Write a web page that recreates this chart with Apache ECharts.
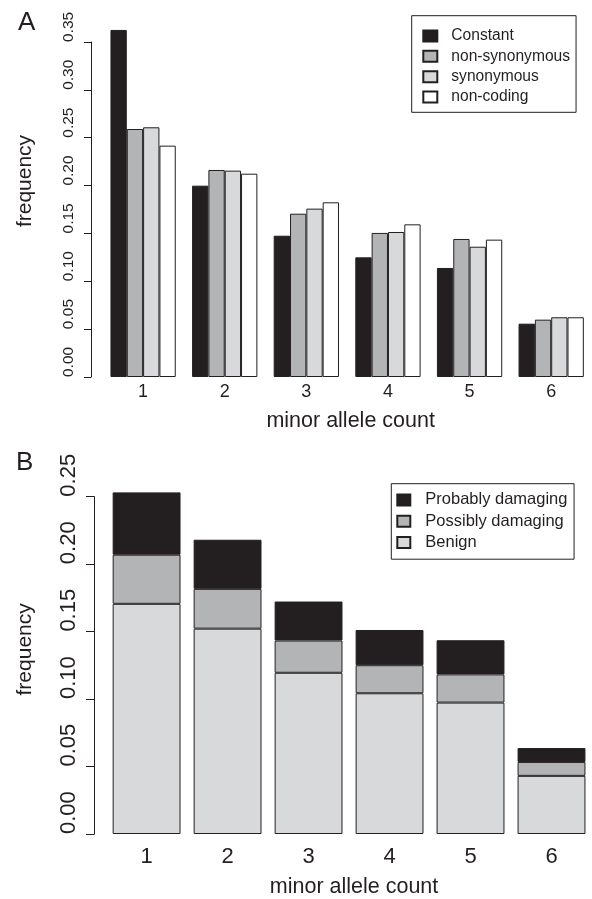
<!DOCTYPE html>
<html><head><meta charset="utf-8">
<script src="https://cdn.jsdelivr.net/npm/echarts@6/dist/echarts.min.js"></script>
<style>html,body{margin:0;padding:0;background:#fff}#c{width:592px;height:899px}</style>
</head><body><div id="c"></div>
<script>
// ---- Data (panel A) ----
const categories = ['1', '2', '3', '4', '5', '6'];
const constant      = [0.3626, 0.1999, 0.1476, 0.1250, 0.1139, 0.0557];
const nonSynonymous = [0.2591, 0.2163, 0.1706, 0.1505, 0.1442, 0.0599];
const synonymous    = [0.2609, 0.2156, 0.1759, 0.1515, 0.1361, 0.0624];
const nonCoding     = [0.2417, 0.2124, 0.1825, 0.1595, 0.1435, 0.0624];
const yTickLabelsA  = ['0.00', '0.05', '0.10', '0.15', '0.20', '0.25', '0.30', '0.35'];
// ---- Data (panel B, stacked segments) ----
const benign            = [0.1706, 0.1522, 0.1195, 0.1043, 0.0974, 0.0431];
const possiblyDamaging  = [0.0364, 0.0295, 0.0239, 0.0208, 0.0209, 0.0103];
const probablyDamaging  = [0.0462, 0.0364, 0.0289, 0.0261, 0.0253, 0.0103];
const yTickLabelsB  = ['0.00', '0.05', '0.10', '0.15', '0.20', '0.25'];

const INK = '#231f20';
const FONT = 'Liberation Sans';
const C_DARK = '#231f20', C_MID = '#b3b4b6', C_LIGHT = '#d8d9db', C_WHITE = '#ffffff';

function barStyle(c) { return { color: c, borderColor: INK, borderWidth: 1 }; }

const chart = echarts.init(document.getElementById('c'), null, { renderer: 'canvas' });

const option = {
  animation: false,
  backgroundColor: '#ffffff',
  textStyle: { fontFamily: FONT, color: INK },
  title: [
    { text: 'A', left: 18, top: 10, padding: 0, textStyle: { fontSize: 26, fontWeight: 'normal', color: INK, fontFamily: FONT } },
    { text: 'B', left: 16, top: 450, padding: 0, textStyle: { fontSize: 26, fontWeight: 'normal', color: INK, fontFamily: FONT } }
  ],
  legend: [
    {
      data: ['Constant', 'non-synonymous', 'synonymous', 'non-coding'],
      orient: 'vertical', left: 411.7, top: 15.7,
      icon: 'rect', itemWidth: 14, itemHeight: 11, itemGap: 0,
      borderColor: INK, borderWidth: 1, padding: [10, 6, 5, 10.6],
      selectedMode: false,
      textStyle: { fontSize: 15.6, lineHeight: 20.4, color: INK, fontFamily: FONT, padding: [0, 0, 0, 9] }
    },
    {
      data: ['Probably damaging', 'Possibly damaging', 'Benign'],
      orient: 'vertical', left: 391.3, top: 483.7,
      icon: 'rect', itemWidth: 13, itemHeight: 11, itemGap: 0,
      borderColor: INK, borderWidth: 1, padding: [5.6, 6.6, 6, 5],
      selectedMode: false,
      textStyle: { fontSize: 16.5, lineHeight: 21.3, color: INK, fontFamily: FONT, padding: [0, 0, 0, 10] }
    }
  ],
  grid: [
    { left: 102.3, top: 42, width: 494.4, height: 335 },
    { left: 106.1, top: 496.7, width: 486.6, height: 339 }
  ],
  xAxis: [
    {
      gridIndex: 0, type: 'category', data: categories,
      axisLine: { show: false }, axisTick: { show: false },
      axisLabel: { fontSize: 18, margin: 6, color: INK, fontFamily: FONT },
      name: 'minor allele count', nameLocation: 'middle', nameGap: 33,
      nameTextStyle: { fontSize: 21.5, color: INK, fontFamily: FONT, padding: [0, 0, 0, 7] }
    },
    {
      gridIndex: 1, type: 'category', data: categories,
      axisLine: { show: false }, axisTick: { show: false },
      axisLabel: { fontSize: 22, margin: 12, color: INK, fontFamily: FONT },
      name: 'minor allele count', nameLocation: 'middle', nameGap: 42,
      nameTextStyle: { fontSize: 21.5, color: INK, fontFamily: FONT, padding: [0, 0, 0, 10] }
    }
  ],
  yAxis: [
    {
      gridIndex: 0, type: 'value', min: 0, max: 0.35, interval: 0.05, offset: 11.3,
      axisLine: { show: true, lineStyle: { color: INK, width: 1 } },
      axisTick: { show: true, length: 7, lineStyle: { color: INK, width: 1 } },
      splitLine: { show: false },
      axisLabel: {
        rotate: 90, align: 'left', verticalAlign: 'middle', margin: 22.5,
        fontSize: 15.5, color: INK, fontFamily: FONT,
        formatter: v => yTickLabelsA[Math.round(v / 0.05)]
      },
      name: 'frequency', nameLocation: 'middle', nameRotate: 90, nameGap: 55,
      nameTextStyle: { fontSize: 21, color: INK, fontFamily: FONT, padding: [0, 0, 0, 57] }
    },
    {
      gridIndex: 1, type: 'value', min: 0, max: 0.25, interval: 0.05, offset: 11.8,
      axisLine: { show: true, lineStyle: { color: INK, width: 1 } },
      axisTick: { show: true, length: 8.3, lineStyle: { color: INK, width: 1 } },
      splitLine: { show: false },
      axisLabel: {
        rotate: 90, align: 'left', verticalAlign: 'middle', margin: 25.6,
        fontSize: 22, color: INK, fontFamily: FONT,
        formatter: v => yTickLabelsB[Math.round(v / 0.05)]
      },
      name: 'frequency', nameLocation: 'middle', nameRotate: 90, nameGap: 59,
      nameTextStyle: { fontSize: 21, color: INK, fontFamily: FONT, padding: [0, 0, 0, 32] }
    }
  ],
  series: [
    { name: 'Constant', type: 'bar', xAxisIndex: 0, yAxisIndex: 0, data: constant, barGap: '0%', barCategoryGap: '20%', clip: false, itemStyle: barStyle(C_DARK) },
    { name: 'non-synonymous', type: 'bar', xAxisIndex: 0, yAxisIndex: 0, data: nonSynonymous, barGap: '0%', barCategoryGap: '20%', clip: false, itemStyle: barStyle(C_MID) },
    { name: 'synonymous', type: 'bar', xAxisIndex: 0, yAxisIndex: 0, data: synonymous, barGap: '0%', barCategoryGap: '20%', clip: false, itemStyle: barStyle(C_LIGHT) },
    { name: 'non-coding', type: 'bar', xAxisIndex: 0, yAxisIndex: 0, data: nonCoding, barGap: '0%', barCategoryGap: '20%', clip: false, itemStyle: barStyle(C_WHITE) },
    { name: 'Benign', type: 'bar', stack: 'pp', xAxisIndex: 1, yAxisIndex: 1, data: benign, barCategoryGap: '16.2%', clip: false, itemStyle: barStyle(C_LIGHT) },
    { name: 'Possibly damaging', type: 'bar', stack: 'pp', xAxisIndex: 1, yAxisIndex: 1, data: possiblyDamaging, barCategoryGap: '16.2%', clip: false, itemStyle: barStyle(C_MID) },
    { name: 'Probably damaging', type: 'bar', stack: 'pp', xAxisIndex: 1, yAxisIndex: 1, data: probablyDamaging, barCategoryGap: '16.2%', clip: false, itemStyle: barStyle(C_DARK) }
  ]
};
chart.setOption(option);
</script>
</body></html>
